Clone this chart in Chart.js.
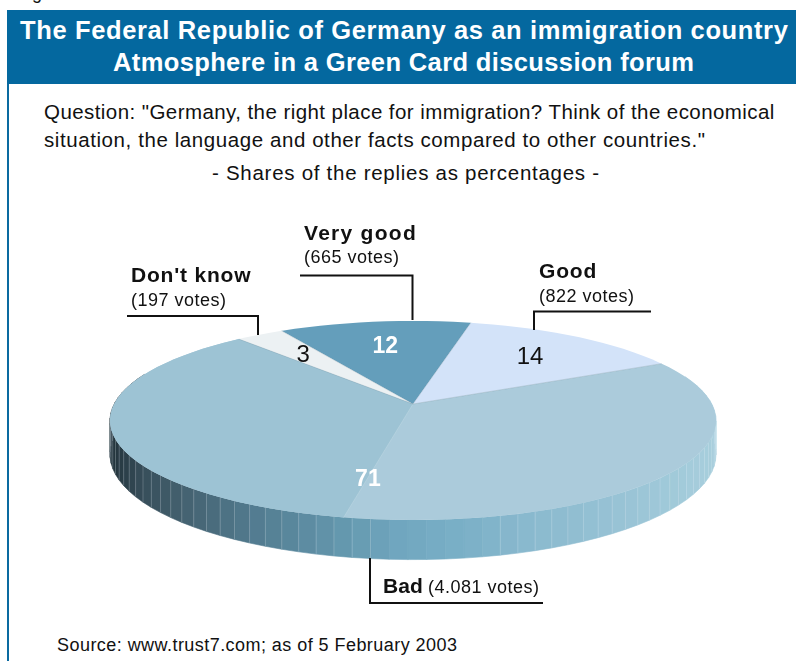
<!DOCTYPE html>
<html>
<head>
<meta charset="utf-8">
<title>Green Card discussion forum</title>
<script src="https://cdn.jsdelivr.net/npm/chart.js@4"></script>
<style>
    html, body { margin: 0; padding: 0; background: #fff; overflow: hidden; }
    body { width: 796px; height: 661px; position: relative; font-family: "Liberation Sans", Arial, sans-serif; color: #111; }
    #chart { position: absolute; left: 0; top: 0; }
    .txt { position: absolute; white-space: nowrap; line-height: 1; }
    .body { font-size: 20.5px; }
    #frame { position: absolute; left: 7px; top: 10px; width: 2px; height: 651px; background: #0a6aa0; }
    #head { position: absolute; left: 7px; top: 10px; width: 789px; height: 74px; background: #04689f; }
    .title { color: #fff; font-weight: bold; font-size: 25.5px; }
</style>
</head>
<body>
<div class="txt" style="left:17px;top:-16px;font-size:18px">Figure 6</div>
<div id="frame"></div>
<div id="head"></div>
<div class="txt title" style="left:20px;top:18px;letter-spacing:0.63px">The Federal Republic of Germany as an immigration country</div>
<div class="txt title" style="left:113px;top:50px;letter-spacing:0.37px">Atmosphere in a Green Card discussion forum</div>
<div class="txt body" style="left:44px;top:102px;letter-spacing:0.43px">Question: "Germany, the right place for immigration? Think of the economical</div>
<div class="txt body" style="left:44px;top:130px;letter-spacing:0.58px">situation, the language and other facts compared to other countries."</div>
<div class="txt body" style="left:212px;top:163px;letter-spacing:0.72px">- Shares of the replies as percentages -</div>
<div class="txt" style="left:57px;top:636px;font-size:18px;letter-spacing:0.45px">Source: www.trust7.com; as of 5 February 2003</div>
<canvas id="chart" width="796" height="661"></canvas>
<script>
const categories = ["Very good", "Good", "Bad", "Don't know"];
const shares = [12, 14, 71, 3];
const votes = ["665", "822", "4.081", "197"];

const sliceColors = ["#649ebb", "#d3e3f9", "#abcbdb", "#ecf1f3"];
const badLeftColor = "#9dc3d4";
const labelColors = ["#fff", "#111", "#fff", "#111"];

// rim shading, left to right across the page
const shadeX = [110, 140, 180, 250, 300, 350, 400, 450, 520, 620, 717];
const shadeRgb = [[34, 50, 58], [53, 76, 88], [67, 96, 110], [82, 122, 142], [91, 138, 159], [102, 154, 176],
    [112, 166, 191], [120, 174, 198], [136, 184, 205], [152, 195, 213], [168, 207, 221]];

// the disc: apex on the page, half axes and foreshortening of the tilt
const cx = 413, cy = 404, ax = 298.8, ay = 96.8, tilt = 0.1658, depth = 33;
const facetStep = 3 * Math.PI / 180;

// leader lines and their captions
const callouts = [
    { line: [[300, 275.5], [412.5, 275.5], [412.5, 320]], x: 304, y: 240, ny: 263, ls: 1.28 },
    { line: [[534, 330], [534, 311.5], [651, 311.5]], x: 539, y: 278, ny: 302, ls: 0.8 },
    { line: [[370, 558], [370, 603], [543, 603]], x: 383, y: 593, nx: 428, ny: 593, ls: 0.1 },
    { line: [[127, 316], [258, 316], [258, 335]], x: 131, y: 282, ny: 306, ls: 0.8 }
];

const project = (a, r = 1, drop = 0) => {
    const u = r * Math.cos(a), v = r * Math.sin(a), w = 1 - tilt * v;
    return [cx + ax * u / w, cy + ay * v / w + drop / w];
};

const shadeAt = x => {
    let i = 0;
    while (i < shadeX.length - 2 && x > shadeX[i + 1]) i++;
    const t = Math.min(1, Math.max(0, (x - shadeX[i]) / (shadeX[i + 1] - shadeX[i])));
    const c = shadeRgb[i].map((s, k) => Math.round(s + (shadeRgb[i + 1][k] - s) * t));
    return `rgb(${c.join(',')})`;
};

const drawRim = ctx => {
    for (let a = -0.3; a < Math.PI + 0.3; a += facetStep) {
        const b = a + facetStep;
        const p = [project(a), project(b), project(b, 1, depth), project(a, 1, depth)];
        ctx.beginPath();
        p.forEach((q, i) => i ? ctx.lineTo(q[0], q[1]) : ctx.moveTo(q[0], q[1]));
        ctx.closePath();
        const col = shadeAt((p[0][0] + p[1][0]) / 2);
        ctx.fillStyle = col;
        ctx.strokeStyle = col;
        ctx.lineWidth = 0.6;
        ctx.fill();
        ctx.stroke();
    }
    // pale seams between the facets, they fade out where the rim is brightest
    for (let a = -0.3; a < Math.PI + 0.3; a += facetStep) {
        const top = project(a), low = project(a, 1, depth);
        if (top[0] > 388 && top[0] < 495) continue;
        ctx.beginPath();
        ctx.moveTo(top[0], top[1]);
        ctx.lineTo(low[0], low[1]);
        ctx.strokeStyle = 'rgba(225,240,245,0.3)';
        ctx.lineWidth = 0.8;
        ctx.stroke();
    }
};

const slicePath = (ctx, start, end) => {
    ctx.beginPath();
    ctx.moveTo(cx, cy);
    let q = project(start);
    ctx.lineTo(q[0], q[1]);
    for (let a = Math.ceil(start / facetStep) * facetStep; a < end; a += facetStep) {
        q = project(a);
        ctx.lineTo(q[0], q[1]);
    }
    q = project(end);
    ctx.lineTo(q[0], q[1]);
    ctx.closePath();
};

const tiltedPie = {
    id: 'tiltedPie',
    beforeDatasetsDraw(chart) {
        const ctx = chart.ctx;
        const arcs = chart.getDatasetMeta(0).data;
        ctx.save();
        drawRim(ctx);

        arcs.forEach((arc, i) => {
            slicePath(ctx, arc.startAngle, arc.endAngle);
            ctx.fillStyle = sliceColors[i];
            ctx.fill();
        });

        // the large slice is lit in two tones, split along its middle
        const bad = arcs[categories.indexOf('Bad')];
        const mid = (bad.startAngle + bad.endAngle) / 2;
        slicePath(ctx, mid, bad.endAngle);
        ctx.fillStyle = badLeftColor;
        ctx.fill();
        const foot = project(mid);
        ctx.beginPath();
        ctx.moveTo(cx, cy);
        ctx.lineTo(foot[0], foot[1]);
        ctx.strokeStyle = 'rgba(190,215,226,0.8)';
        ctx.lineWidth = 0.7;
        ctx.stroke();

        // thin edges on the slice borders
        arcs.forEach(arc => {
            const q = project(arc.startAngle);
            ctx.beginPath();
            ctx.moveTo(cx, cy);
            ctx.lineTo(q[0], q[1]);
            ctx.strokeStyle = 'rgba(110,140,155,0.45)';
            ctx.lineWidth = 0.6;
            ctx.stroke();
        });

        // values sit on the middle of each slice
        ctx.textAlign = 'center';
        ctx.textBaseline = 'middle';
        arcs.forEach((arc, i) => {
            const q = project((arc.startAngle + arc.endAngle) / 2, 0.69);
            ctx.font = labelColors[i] === '#fff' ? 'bold 23px "Liberation Sans"' : '24px "Liberation Sans"';
            ctx.fillStyle = labelColors[i];
            ctx.fillText(String(shares[i]), q[0], q[1] + 1.5);
        });

        // callouts
        ctx.textAlign = 'left';
        ctx.textBaseline = 'alphabetic';
        ctx.strokeStyle = '#111';
        ctx.lineWidth = 2;
        callouts.forEach((c, i) => {
            ctx.beginPath();
            c.line.forEach((q, k) => k ? ctx.lineTo(q[0], q[1]) : ctx.moveTo(q[0], q[1]));
            ctx.stroke();
            ctx.fillStyle = '#111';
            ctx.font = 'bold 21px "Liberation Sans"';
            ctx.letterSpacing = c.ls + 'px';
            ctx.fillText(categories[i], c.x, c.y);
            ctx.font = '18px "Liberation Sans"';
            ctx.letterSpacing = '0.5px';
            ctx.fillText(`(${votes[i]} votes)`, c.nx || c.x, c.ny);
        });
        ctx.restore();
        return false;
    }
};

new Chart(document.getElementById('chart'), {
    type: 'pie',
    data: {
        labels: categories,
        datasets: [{
            data: shares,
            backgroundColor: sliceColors
        }]
    },
    plugins: [tiltedPie],
    options: {
        responsive: false,
        animation: false,
        rotation: -30.2,
        events: [],
        plugins: {
            legend: { display: false },
            tooltip: { enabled: false },
            title: { display: false }
        }
    }
});
</script>
</body>
</html>
